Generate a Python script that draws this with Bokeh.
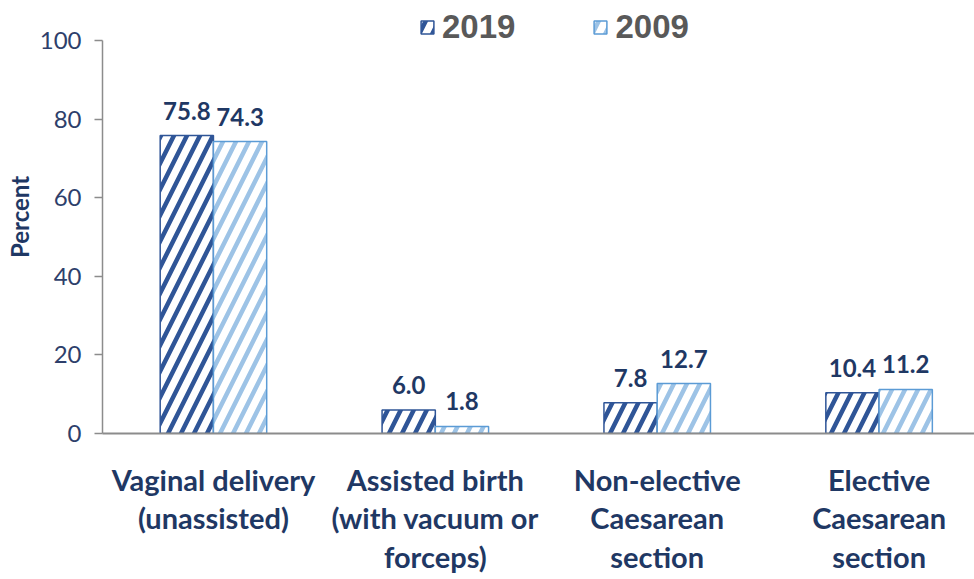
from bokeh.plotting import figure
from bokeh.models import ColumnDataSource, Range1d, FixedTicker, Legend, LegendItem
from bokeh.embed import file_html
from bokeh.resources import INLINE
from bokeh.core.properties import value

categories = ["Vaginal delivery\n(unassisted)", "Assisted birth\n(with vacuum or\nforceps)",
              "Non-elective\nCaesarean\nsection", "Elective\nCaesarean\nsection"]
values_2019 = [75.8, 6.0, 7.8, 10.4]
values_2009 = [74.3, 1.8, 12.7, 11.2]
series_names = ["2019", "2009"]
y_ticks = [0, 20, 40, 60, 80, 100]

FONT = "Lato"
NAVY = "#1F3864"
DARK = "#2F5597"
LIGHT = "#9DC3E6"
LIGHT_EDGE = "#5B9BD5"

bw = 0.24
idx = list(range(len(categories)))
src19 = ColumnDataSource(dict(x=[i - bw / 2 for i in idx], top=values_2019,
                              lab=[f"{v:.1f}" for v in values_2019]))
src09 = ColumnDataSource(dict(x=[i + bw / 2 for i in idx], top=values_2009,
                              lab=[f"{v:.1f}" for v in values_2009]))

p = figure(width=974, height=579, output_backend="svg", toolbar_location=None,
           x_range=Range1d(-0.5, 3.43), y_range=Range1d(0, 110.18),
           min_border_left=102, min_border_right=0, min_border_top=0, min_border_bottom=146)
p.outline_line_color = None
p.xgrid.grid_line_color = None
p.ygrid.grid_line_color = None
p.background_fill_color = "white"

r19 = p.vbar(x="x", top="top", width=bw, source=src19, fill_color="white",
             line_color=DARK, line_width=1.5, hatch_pattern="/", hatch_color=DARK,
             hatch_scale=26, hatch_weight=4.5)
r09 = p.vbar(x="x", top="top", width=bw, source=src09, fill_color="white",
             line_color=LIGHT_EDGE, line_width=1.5, hatch_pattern="/", hatch_color=LIGHT,
             hatch_scale=26, hatch_weight=4.5)

for s in (src19, src09):
    p.text(x="x", y="top", text="lab", source=s, text_align="center", text_baseline="bottom",
           y_offset=-16, text_font=value(FONT), text_font_style="bold",
           text_font_size="24px", text_color=NAVY)

# y axis
ya = p.yaxis[0]
ya.ticker = FixedTicker(ticks=y_ticks)
ya.bounds = (0, 100)
ya.axis_line_color = "#8C8C8C"
ya.axis_line_width = 1.5
ya.major_tick_line_color = "#8C8C8C"
ya.major_tick_line_width = 1.5
ya.major_tick_out = 8
ya.major_tick_in = 0
ya.minor_tick_line_color = None
ya.major_label_text_font = FONT
ya.major_label_text_font_size = "24px"
ya.major_label_text_color = "#2E3F6B"
ya.major_label_standoff = 13
ya.axis_label = "Percent"
ya.axis_label_text_font = FONT
ya.axis_label_text_font_style = "bold"
ya.axis_label_text_font_size = "24px"
ya.axis_label_text_color = NAVY
ya.axis_label_standoff = 3

# x axis
xa = p.xaxis[0]
xa.ticker = FixedTicker(ticks=idx)
xa.major_label_overrides = {i: c for i, c in zip(idx, categories)}
xa.axis_line_color = "#8C8C8C"
xa.axis_line_width = 2
xa.major_tick_line_color = None
xa.minor_tick_line_color = None
xa.major_label_text_font = FONT
xa.major_label_text_font_style = "bold"
xa.major_label_text_font_size = "29px"
xa.major_label_text_color = NAVY
xa.major_label_standoff = 22
xa.major_label_text_line_height = 1.11

legend = Legend(items=[LegendItem(label=series_names[0], renderers=[r19]),
                       LegendItem(label=series_names[1], renderers=[r09])],
                orientation="horizontal", location=(317, 387),
                label_text_font="Liberation Sans", label_text_font_style="bold",
                label_text_font_size="33px", label_text_color="#595959",
                glyph_width=16, glyph_height=16, label_standoff=7, spacing=77,
                padding=0, margin=0, border_line_color=None, background_fill_alpha=0)
p.add_layout(legend)

open("out.html", "w").write(file_html(p, INLINE))
